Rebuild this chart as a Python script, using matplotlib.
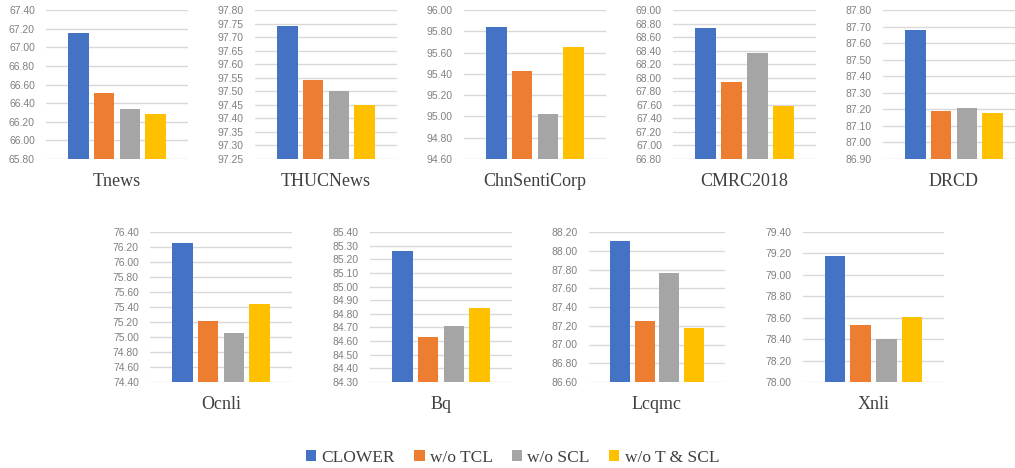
import numpy as np
import matplotlib
matplotlib.use("Agg")
import matplotlib.pyplot as plt
from matplotlib.patches import Patch
from matplotlib.ticker import FormatStrFormatter

# Daten
datasets = ["Tnews", "THUCNews", "ChnSentiCorp", "CMRC2018", "DRCD",
            "Ocnli", "Bq", "Lcqmc", "Xnli"]
series = ["CLOWER", "w/o TCL", "w/o SCL", "w/o T & SCL"]
clower = [67.15, 97.74, 95.84, 68.74, 87.68, 76.26, 85.26, 88.10, 79.18]
wo_tcl = [66.51, 97.54, 95.43, 67.93, 87.19, 75.22, 84.63, 87.25, 78.53]
wo_scl = [66.34, 97.50, 95.02, 68.36, 87.21, 75.06, 84.71, 87.76, 78.40]
wo_tscl = [66.28, 97.45, 95.65, 67.58, 87.18, 75.44, 84.84, 87.18, 78.61]
y_min = [65.80, 97.25, 94.60, 66.80, 86.90, 74.40, 84.30, 86.60, 78.00]
y_max = [67.40, 97.80, 96.00, 69.00, 87.80, 76.40, 85.40, 88.20, 79.40]
y_step = [0.20, 0.05, 0.20, 0.20, 0.10, 0.20, 0.10, 0.20, 0.20]

colors = ["#4472C4", "#ED7D31", "#A5A5A5", "#FFC000"]

# Layout in Pixeln (links, oben, rechts, unten)
W, H = 1015, 468
boxes = [(46, 10, 188, 159), (255, 10, 397, 159), (464, 10, 606, 159),
         (673, 10, 816, 159), (883, 10, 1025, 159),
         (150, 232, 292, 382), (370, 232, 512, 382), (589, 232, 725, 382),
         (803, 232, 944, 382)]

fig = plt.figure(figsize=(W / 100, H / 100), dpi=100)

for i, name in enumerate(datasets):
    l, t, r, b = boxes[i]
    ax = fig.add_axes([l / W, 1 - b / H, (r - l) / W, (b - t) / H])
    vals = [clower[i], wo_tcl[i], wo_scl[i], wo_tscl[i]]
    ax.bar(np.arange(4), vals, width=0.8, color=colors, zorder=3)
    ax.set_xlim(-1.25, 4.25)
    ax.set_ylim(y_min[i], y_max[i])
    ticks = np.arange(y_min[i], y_max[i] + y_step[i] / 2, y_step[i])
    ax.set_yticks(ticks)
    ax.yaxis.set_major_formatter(FormatStrFormatter("%.2f"))
    ax.yaxis.grid(True, color="#d9d9d9", lw=1, zorder=0)
    ax.set_xticks([])
    for s in ax.spines.values():
        s.set_visible(False)
    ax.tick_params(axis="y", length=0, pad=8, labelsize=7.5, labelcolor="#808080")
    for lab in ax.get_yticklabels():
        lab.set_family("Liberation Sans")
    ax.set_xlabel(name, fontsize=13, family="Liberation Serif", color="#404040", labelpad=10)

handles = [Patch(facecolor=c, edgecolor="none") for c in colors]
fig.legend(handles, series, loc="center", bbox_to_anchor=(0.505, 1 - 458 / H), ncol=4,
           frameon=False, prop={"family": "Liberation Serif", "size": 12.5},
           handlelength=0.6, handleheight=0.6, handletextpad=0.3, columnspacing=1.1,
           labelcolor="#404040")

fig.savefig("out.png", dpi=100)
